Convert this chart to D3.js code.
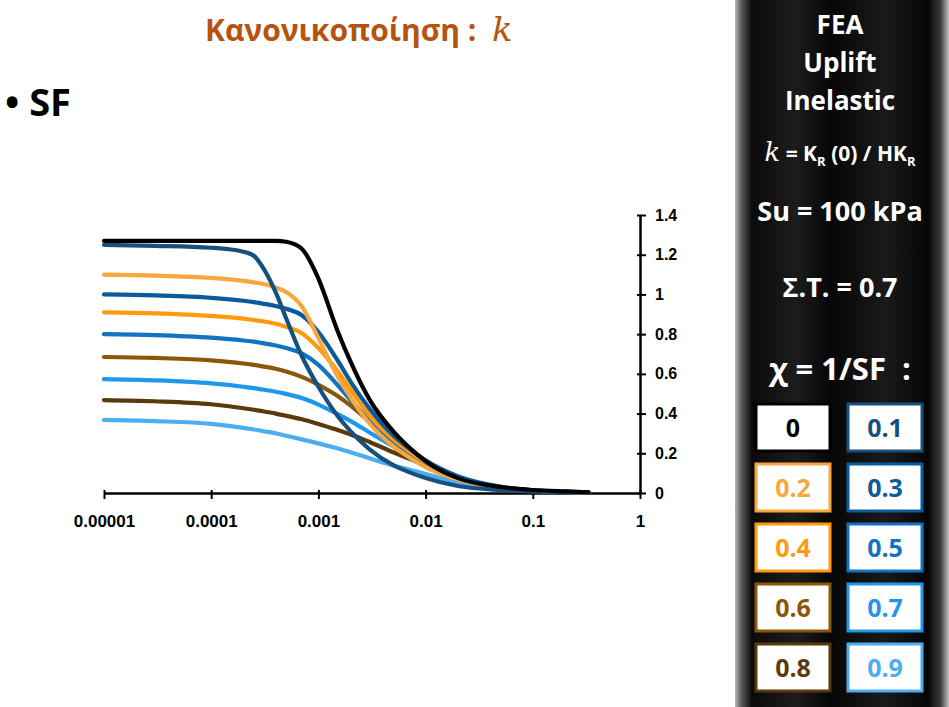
<!DOCTYPE html>
<html>
<head>
<meta charset="utf-8">
<script src="https://cdn.jsdelivr.net/npm/d3@7"></script>
<style>
  html, body { margin: 0; padding: 0; background: #fff; }
  svg { display: block; }
  text { white-space: pre; }
</style>
</head>
<body>
<svg id="chart" width="949" height="707"></svg>
<script>
// ---------------- DATA ----------------
const strain = [1e-5, 3e-5, 1e-4, 2e-4, 2.5e-4, 3e-4, 4e-4, 5e-4, 7e-4, 1e-3, 1.5e-3, 2e-3, 3e-3, 5e-3, 7e-3, 1e-2, 2e-2, 5e-2, 0.1, 0.2, 0.33];

const chiLabels = ["0", "0.1", "0.2", "0.3", "0.4", "0.5", "0.6", "0.7", "0.8", "0.9"];
const chiColors = ["#000000", "#17507f", "#f7a73e", "#0a5a9c", "#ff9a0c", "#1173c2", "#8a5608", "#1f97ea", "#5a390b", "#4caef0"];

const k_chi0 = [1.27, 1.27, 1.27, 1.27, 1.27, 1.27, 1.27, 1.265, 1.23, 1.08, 0.82, 0.66, 0.47, 0.31, 0.23, 0.16, 0.075, 0.03, 0.015, 0.008, 0.004];
const k_chi1 = [1.25, 1.245, 1.235, 1.215, 1.195, 1.14, 1.01, 0.88, 0.69, 0.535, 0.39, 0.31, 0.22, 0.14, 0.105, 0.075, 0.035, 0.015, 0.008, 0.004, 0.002];
const k_chi2 = [1.10, 1.095, 1.083, 1.068, 1.061, 1.054, 1.035, 1.012, 0.94, 0.78, 0.59, 0.48, 0.35, 0.235, 0.18, 0.13, 0.068, 0.028, 0.013, 0.007, 0.004];
const k_chi3 = [1.00, 0.995, 0.983, 0.968, 0.961, 0.954, 0.942, 0.928, 0.895, 0.81, 0.67, 0.56, 0.425, 0.29, 0.225, 0.165, 0.085, 0.032, 0.014, 0.007, 0.004];
const k_chi4 = [0.91, 0.905, 0.892, 0.878, 0.871, 0.865, 0.852, 0.837, 0.805, 0.73, 0.615, 0.52, 0.39, 0.27, 0.21, 0.155, 0.08, 0.03, 0.013, 0.006, 0.003];
const k_chi5 = [0.80, 0.795, 0.782, 0.768, 0.762, 0.755, 0.743, 0.73, 0.703, 0.645, 0.545, 0.468, 0.365, 0.26, 0.205, 0.155, 0.08, 0.03, 0.013, 0.006, 0.003];
const k_chi6 = [0.685, 0.68, 0.668, 0.652, 0.645, 0.638, 0.626, 0.612, 0.585, 0.545, 0.49, 0.44, 0.36, 0.262, 0.21, 0.155, 0.08, 0.03, 0.013, 0.006, 0.003];
const k_chi7 = [0.573, 0.567, 0.552, 0.535, 0.528, 0.521, 0.51, 0.499, 0.478, 0.445, 0.398, 0.362, 0.305, 0.235, 0.193, 0.15, 0.08, 0.03, 0.013, 0.006, 0.003];
const k_chi8 = [0.468, 0.462, 0.447, 0.427, 0.419, 0.412, 0.40, 0.389, 0.371, 0.348, 0.318, 0.295, 0.257, 0.205, 0.173, 0.138, 0.075, 0.028, 0.012, 0.006, 0.003];
const k_chi9 = [0.368, 0.362, 0.348, 0.328, 0.32, 0.312, 0.30, 0.288, 0.27, 0.25, 0.225, 0.205, 0.175, 0.138, 0.118, 0.095, 0.055, 0.022, 0.01, 0.005, 0.003];

const xTickValues = [1e-5, 1e-4, 1e-3, 1e-2, 1e-1, 1];
const xTickLabels = ["0.00001", "0.0001", "0.001", "0.01", "0.1", "1"];
const yTickValues = [0, 0.2, 0.4, 0.6, 0.8, 1, 1.2, 1.4];
const yTickLabels = ["0", "0.2", "0.4", "0.6", "0.8", "1", "1.2", "1.4"];

const seriesValues = [k_chi0, k_chi1, k_chi2, k_chi3, k_chi4, k_chi5, k_chi6, k_chi7, k_chi8, k_chi9];

// ---------------- DRAW ----------------
const svg = d3.select("#chart");
const FONT = "'Open Sans', 'Noto Sans', 'DejaVu Sans', sans-serif";
const AXFONT = "'Liberation Sans', Arial, sans-serif";

// Title
const title = svg.append("text")
  .attr("x", 205).attr("y", 41)
  .attr("font-family", FONT).attr("font-weight", 700)
  .attr("font-size", 30).attr("fill", "#b5530f");
title.append("tspan").text("Κανονικοποίηση :  ");
title.append("tspan").attr("font-family", "'DejaVu Serif', serif").attr("font-style", "italic")
  .attr("font-weight", 400).attr("font-size", 34).text("k");

// Bullet SF
svg.append("text").attr("x", 5).attr("y", 116)
  .attr("font-family", FONT).attr("font-weight", 700).attr("font-size", 38).attr("fill", "#000")
  .text("• SF");

// Scales
const x = d3.scaleLog().domain([1e-5, 1]).range([104, 640]);
const y = d3.scaleLinear().domain([0, 1.4]).range([493, 215]);

// Axes
const xAxis = d3.axisBottom(x).tickValues(xTickValues)
  .tickFormat((d, i) => xTickLabels[i]).tickSizeInner(5).tickSizeOuter(0);
const gx = svg.append("g").attr("transform", "translate(0,493)").call(xAxis);
gx.select(".domain").attr("stroke", "#000").attr("stroke-width", 2.5);
gx.selectAll(".tick line").attr("stroke", "#000").attr("stroke-width", 2).attr("y1", -3).attr("y2", 6);
gx.selectAll(".tick text").attr("y", 34).attr("dy", 0).attr("font-family", AXFONT)
  .attr("font-weight", 700).attr("font-size", 17).attr("fill", "#000");

const yAxis = d3.axisRight(y).tickValues(yTickValues)
  .tickFormat((d, i) => yTickLabels[i]).tickSizeInner(5).tickSizeOuter(0);
const gy = svg.append("g").attr("transform", "translate(640,0)").call(yAxis);
gy.select(".domain").attr("stroke", "#000").attr("stroke-width", 2.5);
gy.selectAll(".tick line").attr("stroke", "#000").attr("stroke-width", 2).attr("x1", -3).attr("x2", 6);
gy.selectAll(".tick text").attr("x", 15).attr("font-family", AXFONT)
  .attr("font-weight", 700).attr("font-size", 16).attr("fill", "#000");

// Lines
const line = d3.line()
  .x(d => x(d[0])).y(d => y(d[1]))
  .curve(d3.curveMonotoneX);

const order = d3.range(seriesValues.length).reverse();
svg.append("g").selectAll("path")
  .data(order)
  .join("path")
  .attr("d", i => line(strain.map((s, j) => [s, seriesValues[i][j]])))
  .attr("fill", "none")
  .attr("stroke", i => chiColors[i])
  .attr("stroke-width", 4.2)
  .attr("stroke-linejoin", "round")
  .attr("stroke-linecap", "round");

// Right panel
const defs = svg.append("defs");
const grad = defs.append("linearGradient").attr("id", "panelGrad")
  .attr("x1", "0%").attr("x2", "100%").attr("y1", "0%").attr("y2", "0%");
[[0, "#b8b8b8"], [0.03, "#5a5a5a"], [0.08, "#0a0a0a"], [0.28, "#1c1c1c"], [0.45, "#060606"],
 [0.7, "#1a1a1a"], [0.9, "#050505"], [0.96, "#3a3a3a"], [1, "#c4c4c4"]]
  .forEach(([o, c]) => grad.append("stop").attr("offset", o).attr("stop-color", c));

svg.append("rect").attr("x", 735).attr("y", 0).attr("width", 214).attr("height", 707)
  .attr("fill", "url(#panelGrad)");

const cx = 840;
function panelText(txt, yy, size) {
  return svg.append("text").attr("x", cx).attr("y", yy).attr("text-anchor", "middle")
    .attr("font-family", FONT).attr("font-weight", 700).attr("font-size", size)
    .attr("fill", "#fff").text(txt);
}
panelText("FEA", 34, 26);
panelText("Uplift", 72, 26);
panelText("Inelastic", 110, 26);

const kt = svg.append("text").attr("x", cx).attr("y", 161).attr("text-anchor", "middle")
  .attr("font-family", FONT).attr("font-weight", 700).attr("font-size", 21).attr("fill", "#fff");
kt.append("tspan").attr("font-family", "'DejaVu Serif', serif").attr("font-style", "italic")
  .attr("font-weight", 400).attr("font-size", 26).text("k");
kt.append("tspan").text(" = K");
kt.append("tspan").attr("font-size", 13).attr("dy", 5).text("R");
kt.append("tspan").attr("dy", -5).text(" (0) / HK");
kt.append("tspan").attr("font-size", 13).attr("dy", 5).text("R");

panelText("Su = 100 kPa", 221, 27);
panelText("Σ.Τ. = 0.7", 297, 27);
panelText("χ = 1/SF  :", 380, 31);

// Legend boxes
const boxW = 74, boxH = 47;
const colX = [756, 848];
const rowY = [404, 464, 524, 584, 644];
const boxes = svg.append("g").selectAll("g")
  .data(d3.range(chiLabels.length))
  .join("g")
  .attr("transform", i => `translate(${colX[i % 2]},${rowY[Math.floor(i / 2)]})`);
boxes.append("rect").attr("width", boxW).attr("height", boxH)
  .attr("fill", "#fff").attr("stroke", i => chiColors[i]).attr("stroke-width", 3);
boxes.append("text").attr("x", boxW / 2).attr("y", boxH / 2 + 9).attr("text-anchor", "middle")
  .attr("font-family", FONT).attr("font-weight", 700).attr("font-size", 25)
  .attr("fill", i => chiColors[i]).text(i => chiLabels[i]);
</script>
</body>
</html>
